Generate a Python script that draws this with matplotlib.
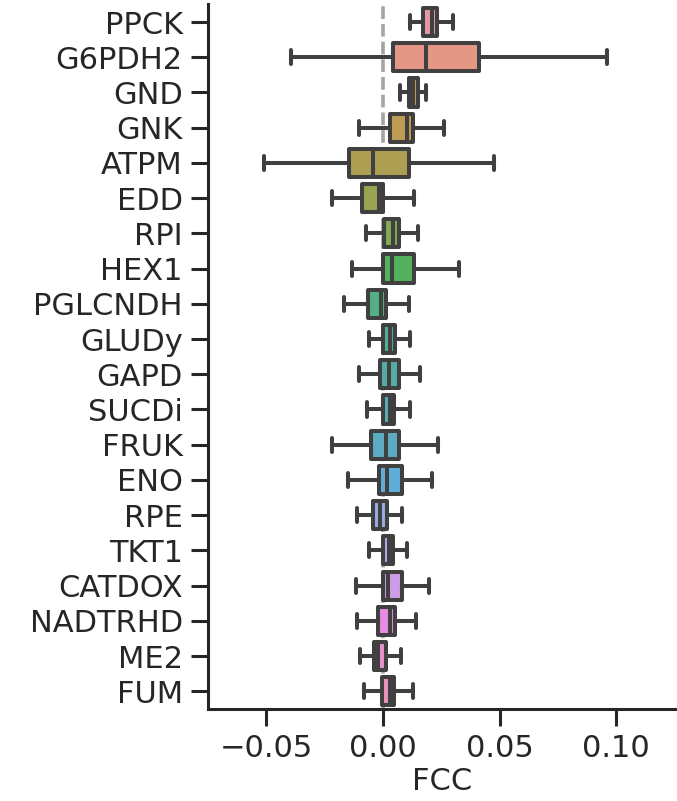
import matplotlib
matplotlib.use("Agg")
import matplotlib.pyplot as plt
import seaborn as sns

# реакции и статистики ящиков
reactions = ["PPCK", "G6PDH2", "GND", "GNK", "ATPM", "EDD", "RPI", "HEX1",
             "PGLCNDH", "GLUDy", "GAPD", "SUCDi", "FRUK", "ENO", "RPE",
             "TKT1", "CATDOX", "NADTRHD", "ME2", "FUM"]
whis_lo = [0.0116, -0.0394, 0.0073, -0.0103, -0.0510, -0.0218, -0.0073, -0.0133,
           -0.0167, -0.0060, -0.0103, -0.0069, -0.0218, -0.0150, -0.0111,
           -0.0060, -0.0116, -0.0111, -0.0099, -0.0081]
q1 = [0.0170, 0.0043, 0.0111, 0.0030, -0.0146, -0.0090, 0.0004, 0.0000,
      -0.0064, 0.0000, -0.0013, 0.0000, -0.0051, -0.0017, -0.0043,
      0.0000, 0.0000, -0.0021, -0.0039, -0.0004]
median = [0.0210, 0.0184, 0.0130, 0.0103, -0.0043, -0.0017, 0.0043, 0.0039,
          -0.0009, 0.0030, 0.0026, 0.0030, 0.0013, 0.0017, -0.0013,
          0.0026, 0.0021, 0.0030, -0.0021, 0.0030]
q3 = [0.0230, 0.0410, 0.0150, 0.0128, 0.0111, 0.0000, 0.0069, 0.0133,
      0.0013, 0.0051, 0.0069, 0.0047, 0.0069, 0.0081, 0.0017,
      0.0043, 0.0081, 0.0051, 0.0013, 0.0047]
whis_hi = [0.0300, 0.0960, 0.0184, 0.0260, 0.0476, 0.0133, 0.0150, 0.0326,
           0.0111, 0.0116, 0.0159, 0.0116, 0.0236, 0.0210, 0.0081,
           0.0103, 0.0197, 0.0141, 0.0077, 0.0128]

edge = "#404040"
lw = 2.9

stats = []
for i in range(len(reactions)):
    stats.append({"label": reactions[i], "whislo": whis_lo[i], "q1": q1[i],
                  "med": median[i], "q3": q3[i], "whishi": whis_hi[i]})

colors = [sns.desaturate(c, 0.75)
          for c in sns.husl_palette(len(reactions), s=0.85, l=0.7)]

fig = plt.figure(figsize=(6.77, 8.01), dpi=100)
ax = fig.add_axes([0.307, 0.115, 0.693, 0.8795])

ax.axvline(0, color="#a4a4a4", ls="--", lw=2.6, zorder=0.5, dashes=(3.5, 1.4))

positions = list(range(len(reactions)))
bp = ax.bxp(stats, positions=positions, vert=False, widths=0.8, patch_artist=True,
            showfliers=False,
            boxprops=dict(linewidth=lw, edgecolor=edge, joinstyle="round"),
            whiskerprops=dict(linewidth=lw, color=edge),
            capprops=dict(linewidth=lw, color=edge, solid_capstyle="round"),
            medianprops=dict(linewidth=lw, color=edge))
for patch, c in zip(bp["boxes"], colors):
    patch.set_facecolor(c)

ax.set_ylim(len(reactions) - 0.5, -0.5)
ax.set_xlim(-0.075, 0.126)
ax.set_yticks(positions)
ax.set_yticklabels(reactions)
ax.set_xticks([-0.05, 0.0, 0.05, 0.10])
ax.set_xticklabels(["\u22120.05", "0.00", "0.05", "0.10"])
ax.set_xlabel("FCC", fontsize=22, labelpad=3)

ax.tick_params(axis="both", labelsize=22, length=12, width=2.2, color="#262626",
               labelcolor="#262626", pad=6)
for s in ["top", "right"]:
    ax.spines[s].set_visible(False)
for s in ["left", "bottom"]:
    ax.spines[s].set_linewidth(2.2)
    ax.spines[s].set_color("#262626")
ax.xaxis.label.set_color("#262626")

plt.savefig("out.png", dpi=100)
